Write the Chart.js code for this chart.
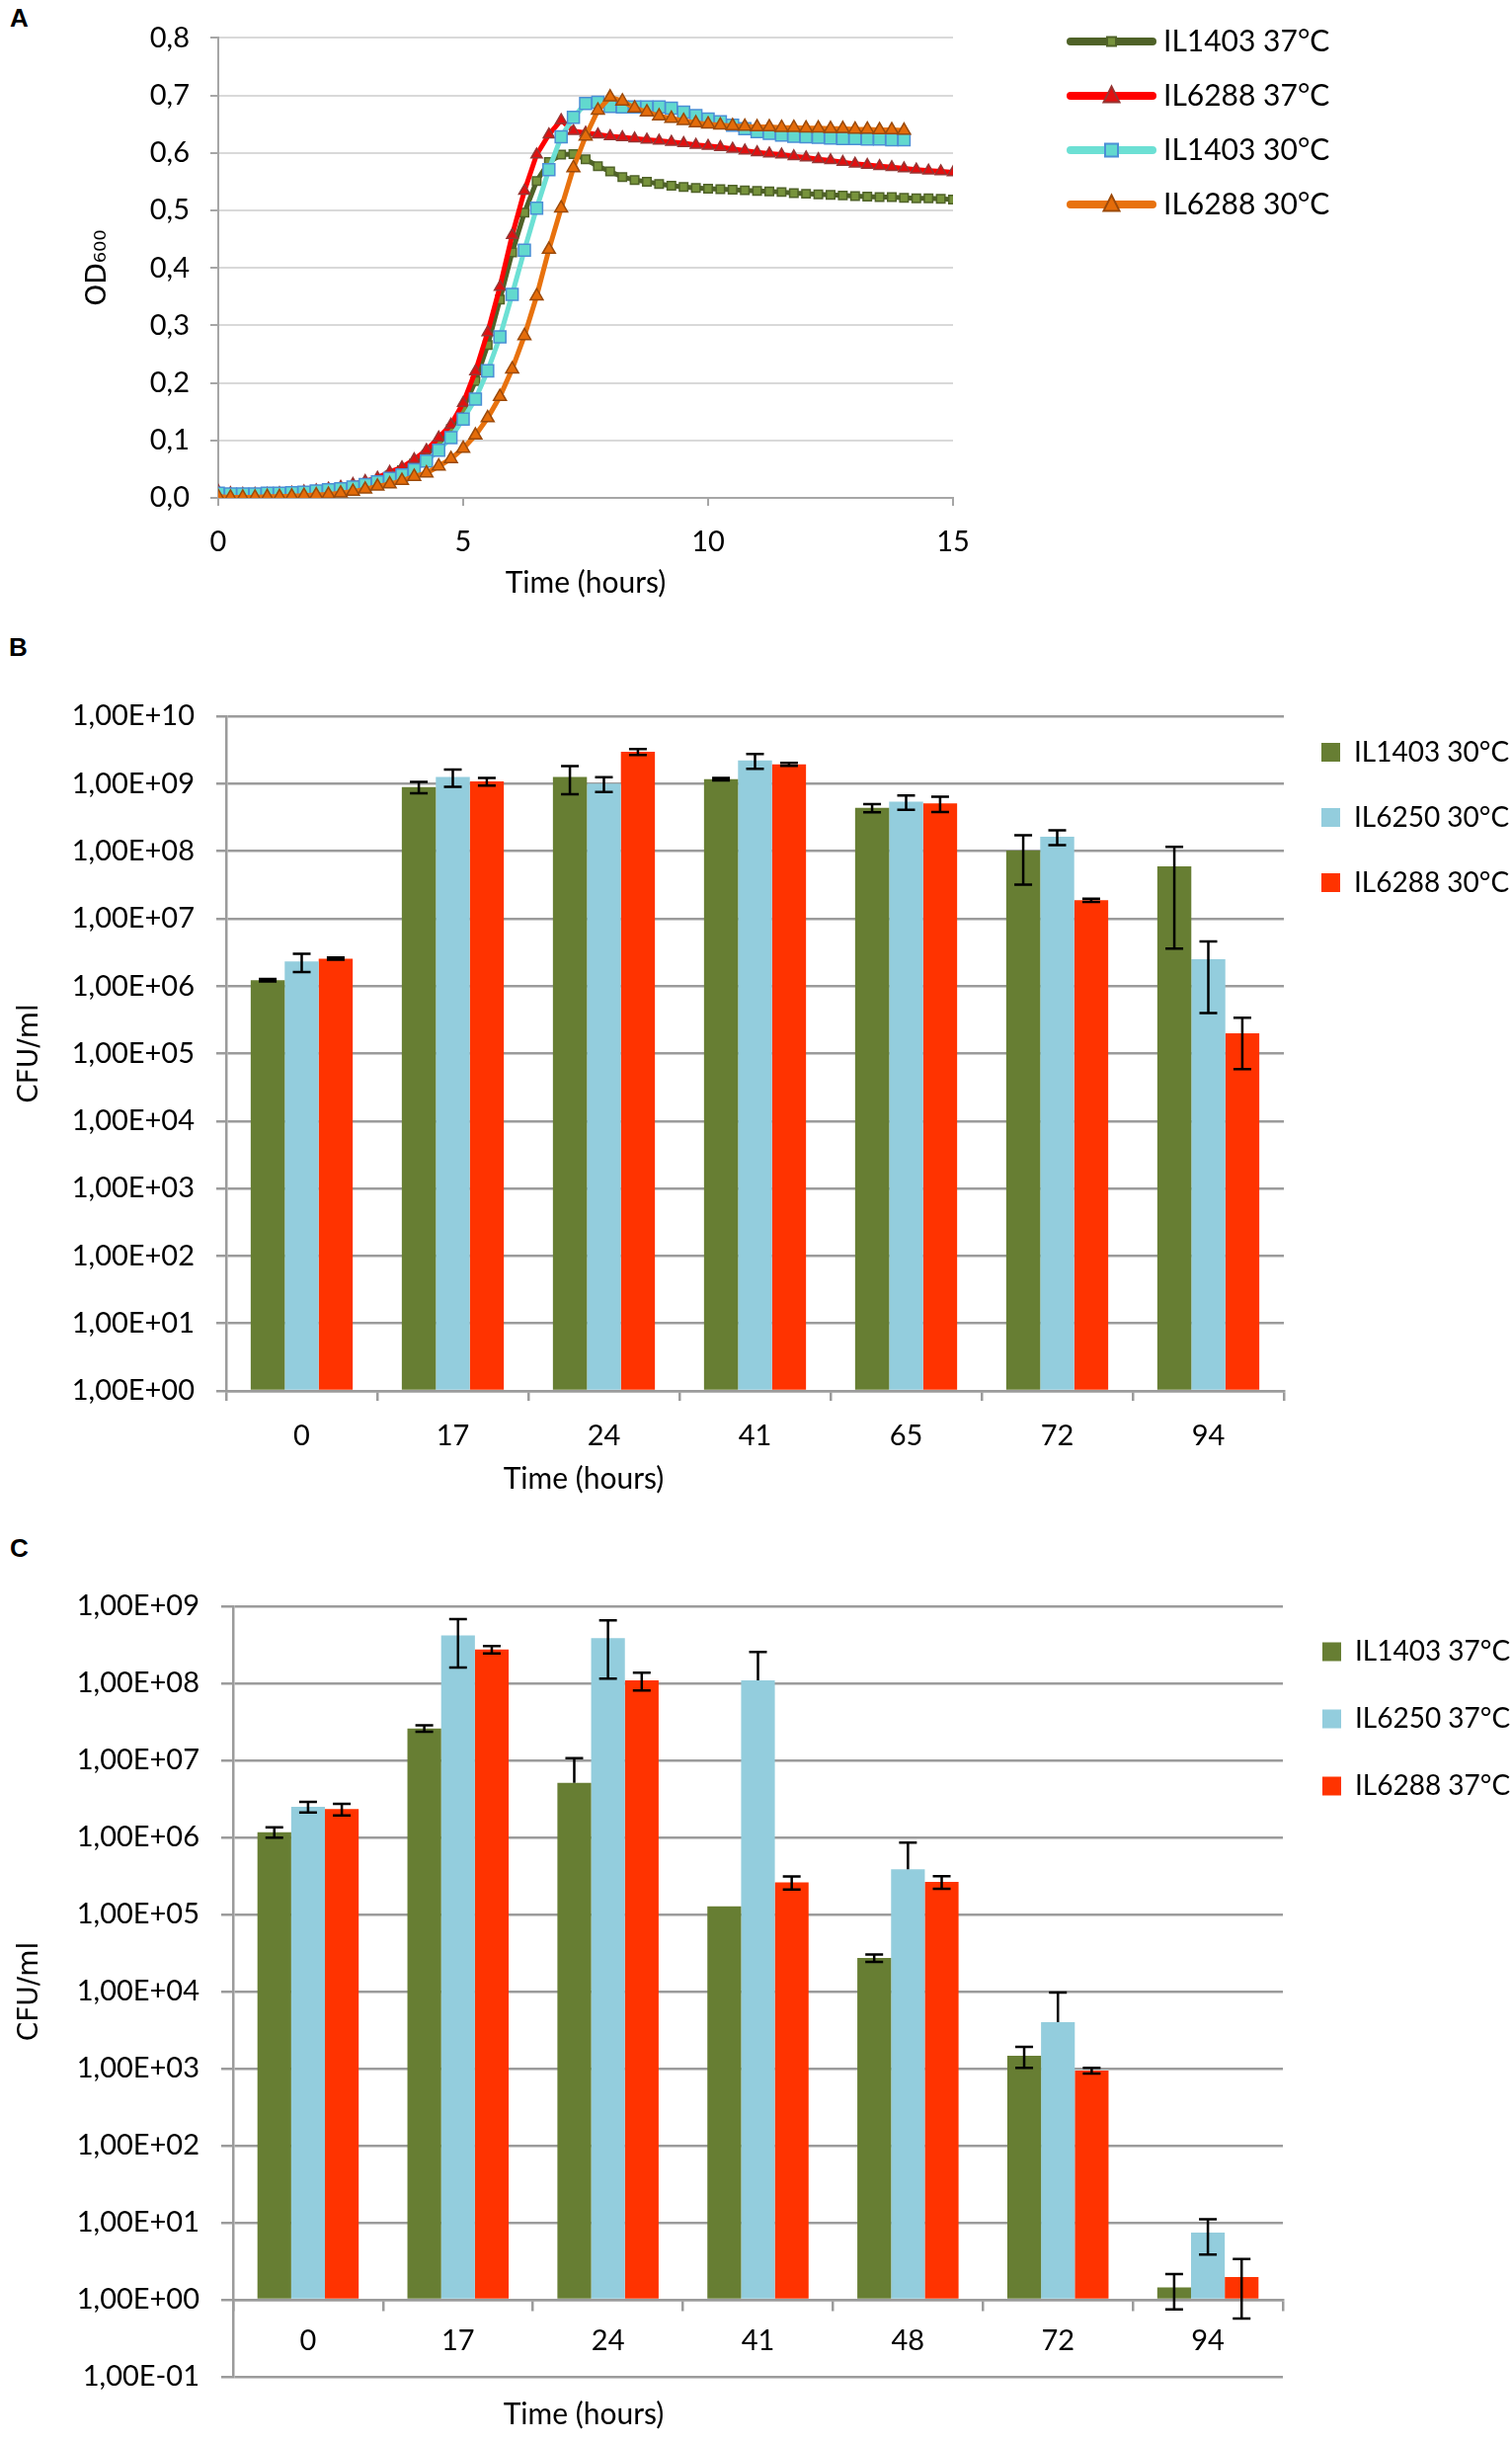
<!DOCTYPE html>
<html>
<head>
<meta charset="utf-8">
<title>Growth and survival</title>
<script src="https://cdn.jsdelivr.net/npm/chart.js@4.4.1/dist/chart.umd.min.js"></script>
<style>
  html, body { margin: 0; padding: 0; background: #fff; }
  body { width: 1531px; height: 2473px; position: relative; overflow: hidden; }
  .box { position: absolute; left: 0; width: 1531px; }
  .panel { position: absolute; font: bold 26px "Liberation Sans", Arial, sans-serif; line-height: 1; color: #000; }
</style>
</head>
<body>
<div class="panel" style="left:10px; top:5px">A</div>
<div class="panel" style="left:9px; top:642px">B</div>
<div class="panel" style="left:10px; top:1554px">C</div>
<div class="box" style="top:0; height:620px"><canvas id="chartA"></canvas></div>
<div class="box" style="top:620px; height:900px"><canvas id="chartB"></canvas></div>
<div class="box" style="top:1520px; height:953px"><canvas id="chartC"></canvas></div>
<script>
// ---- panel A: OD600 growth curves (readings every 15 min) ----
const hours = [0, 0.25, 0.5, 0.75, 1, 1.25, 1.5, 1.75, 2, 2.25, 2.5, 2.75, 3, 3.25, 3.5, 3.75,
  4, 4.25, 4.5, 4.75, 5, 5.25, 5.5, 5.75, 6, 6.25, 6.5, 6.75, 7, 7.25, 7.5, 7.75,
  8, 8.25, 8.5, 8.75, 9, 9.25, 9.5, 9.75, 10, 10.25, 10.5, 10.75, 11, 11.25, 11.5, 11.75,
  12, 12.25, 12.5, 12.75, 13, 13.25, 13.5, 13.75, 14, 14.25, 14.5, 14.75, 15];

const od1403at37 = [0.005, 0.005, 0.005, 0.005, 0.006, 0.007, 0.008, 0.009, 0.011, 0.013, 0.016, 0.020,
  0.025, 0.031, 0.039, 0.048, 0.060, 0.075, 0.095, 0.120, 0.155, 0.203, 0.266, 0.345,
  0.427, 0.496, 0.551, 0.584, 0.597, 0.598, 0.589, 0.577, 0.568, 0.558, 0.553, 0.550,
  0.546, 0.543, 0.541, 0.539, 0.538, 0.537, 0.536, 0.535, 0.534, 0.533, 0.532, 0.530,
  0.529, 0.528, 0.527, 0.526, 0.525, 0.524, 0.523, 0.523, 0.522, 0.521, 0.521, 0.520, 0.519];

const od6288at37 = [0.012, 0.008, 0.007, 0.007, 0.007, 0.008, 0.009, 0.011, 0.013, 0.016, 0.019, 0.024,
  0.029, 0.035, 0.045, 0.053, 0.067, 0.083, 0.105, 0.127, 0.165, 0.220, 0.288, 0.367,
  0.457, 0.534, 0.597, 0.632, 0.657, 0.638, 0.635, 0.632, 0.629, 0.627, 0.625, 0.623,
  0.621, 0.619, 0.617, 0.614, 0.612, 0.610, 0.607, 0.604, 0.601, 0.599, 0.597, 0.594,
  0.592, 0.589, 0.587, 0.584, 0.581, 0.579, 0.577, 0.575, 0.573, 0.571, 0.569, 0.568, 0.566];

const od1403at30 = [0.008, 0.007, 0.007, 0.007, 0.008, 0.008, 0.009, 0.010, 0.012, 0.014, 0.016, 0.019,
  0.023, 0.028, 0.034, 0.040, 0.049, 0.064, 0.083, 0.105, 0.137, 0.172, 0.221, 0.280,
  0.354, 0.431, 0.504, 0.571, 0.628, 0.662, 0.686, 0.688, 0.681, 0.680, 0.680, 0.680,
  0.680, 0.678, 0.671, 0.665, 0.659, 0.654, 0.648, 0.642, 0.637, 0.634, 0.631, 0.629,
  0.628, 0.627, 0.626, 0.625, 0.625, 0.624, 0.624, 0.623, 0.623];

const od6288at30 = [0.002, 0.001, 0.001, 0.001, 0.002, 0.002, 0.003, 0.004, 0.005, 0.006, 0.008, 0.011,
  0.015, 0.020, 0.024, 0.030, 0.037, 0.043, 0.055, 0.068, 0.086, 0.109, 0.139, 0.176,
  0.224, 0.282, 0.351, 0.432, 0.504, 0.574, 0.629, 0.674, 0.697, 0.690, 0.678, 0.671,
  0.664, 0.660, 0.656, 0.652, 0.650, 0.648, 0.647, 0.646, 0.645, 0.645, 0.644, 0.644,
  0.643, 0.643, 0.642, 0.642, 0.641, 0.641, 0.640, 0.640, 0.639];

// ---- panel B: CFU/ml at 30 °C ----
const timesB = ['0', '17', '24', '41', '65', '72', '94'];
const cfu1403at30 = [1.22e6, 8.9e8, 1.26e9, 1.17e9, 4.37e8, 1.02e8, 5.96e7];
const sd1403at30 = [0.05e6, 1.7e8, 5.6e8, 0.05e9, 0.6e8, 0.7e8, 5.6e7];
const cfu6250at30 = [2.31e6, 1.26e9, 1.0e9, 2.21e9, 5.4e8, 1.63e8, 2.5e6];
const sd6250at30 = [0.7e6, 3.6e8, 2.5e8, 0.55e9, 1.3e8, 0.4e8, 2.1e6];
const cfu6288at30 = [2.55e6, 1.08e9, 2.96e9, 1.93e9, 5.1e8, 1.87e7, 1.99e5];
const sd6288at30 = [0.1e6, 1.4e8, 0.3e9, 0.1e9, 1.3e8, 0.1e7, 1.4e5];
const ticksB = [1, 1e1, 1e2, 1e3, 1e4, 1e5, 1e6, 1e7, 1e8, 1e9, 1e10];

// ---- panel C: CFU/ml at 37 °C ----
const timesC = ['0', '17', '24', '41', '48', '72', '94'];
const cfu1403at37 = [1.17e6, 2.6e7, 5.1e6, 1.28e5, 2.73e4, 1.47e3, 1.45];
const sd1403at37 = [0.18e6, 0.25e7, 5.6e6, 0, 0.3e4, 0.45e3, 0.7];
const cfu6250at37 = [2.5e6, 4.2e8, 3.85e8, 1.09e8, 3.87e5, 3.99e3, 7.47];
const sd6250at37 = [0.4e6, 2.6e8, 2.7e8, 1.47e8, 4.7e5, 5.7e3, 3.6];
const cfu6288at37 = [2.33e6, 2.75e8, 1.09e8, 2.61e5, 2.65e5, 944, 1.97];
const sd6288at37 = [0.4e6, 0.3e8, 0.28e8, 0.5e5, 0.5e5, 80, 1.4];
const ticksC = [0.1, 1, 1e1, 1e2, 1e3, 1e4, 1e5, 1e6, 1e7, 1e8, 1e9];

Chart.defaults.font.family = "Lato";
Chart.defaults.color = "#000";
Chart.defaults.animation = false;

const sci = (v) => {
  const e = Math.round(Math.log10(v));
  return "1,00E" + (e < 0 ? "-" : "+") + String(Math.abs(e)).padStart(2, "0");
};
const pts = (ys) => ys.map((y, i) => ({ x: hours[i], y }));

// panel A legend: line sample + marker per series, drawn to the right of the plot
// (the built-in right legend is capped at a quarter of the width, too narrow here)
const lineLegend = {
  id: "lineLegend",
  afterDraw(chart, args, opts) {
    const { ctx } = chart;
    ctx.save();
    chart.data.datasets.forEach((ds, i) => {
      const y = opts.top + i * opts.spacing;
      ctx.strokeStyle = ds.borderColor;
      ctx.lineWidth = 8;
      ctx.lineCap = "round";
      ctx.beginPath();
      ctx.moveTo(opts.x0 + 4, y);
      ctx.lineTo(opts.x1 - 4, y);
      ctx.stroke();
      const cx = (opts.x0 + opts.x1) / 2;
      const s = ds.legendSize;
      ctx.fillStyle = ds.pointBackgroundColor;
      ctx.strokeStyle = ds.pointBorderColor;
      ctx.lineWidth = 2;
      ctx.beginPath();
      if (ds.pointStyle === "rect") {
        ctx.rect(cx - s / 2, y - s / 2, s, s);
      } else {
        ctx.moveTo(cx, y - s * 0.6);
        ctx.lineTo(cx + s / 2, y + s * 0.4);
        ctx.lineTo(cx - s / 2, y + s * 0.4);
        ctx.closePath();
      }
      ctx.fill();
      ctx.stroke();
      ctx.fillStyle = "#000";
      ctx.font = opts.font;
      ctx.textAlign = "left";
      ctx.textBaseline = "middle";
      ctx.fillText(ds.label, opts.textX, y);
    });
    ctx.restore();
  },
};

// error bars (mean +/- sd), lower half left out when it would go below zero
const errorBars = {
  id: "errorBars",
  afterDatasetsDraw(chart) {
    const { ctx } = chart;
    const y = chart.scales.y;
    ctx.save();
    ctx.strokeStyle = "#000";
    ctx.lineWidth = 2.5;
    chart.data.datasets.forEach((ds, di) => {
      chart.getDatasetMeta(di).data.forEach((bar, i) => {
        const v = ds.data[i];
        const e = ds.errors[i];
        if (!e) return;
        const top = y.getPixelForValue(v + e);
        const hasLow = v - e > 0;
        const low = hasLow ? y.getPixelForValue(v - e) : bar.y;
        ctx.beginPath();
        ctx.moveTo(bar.x, top);
        ctx.lineTo(bar.x, low);
        ctx.moveTo(bar.x - 9, top);
        ctx.lineTo(bar.x + 9, top);
        if (hasLow) {
          ctx.moveTo(bar.x - 9, low);
          ctx.lineTo(bar.x + 9, low);
        }
        ctx.stroke();
      });
    });
    ctx.restore();
  },
};

// x-axis caption, placed like in the original figure (left of centre)
const xCaption = {
  id: "xCaption",
  afterDraw(chart, args, opts) {
    const { ctx } = chart;
    ctx.save();
    ctx.font = opts.font;
    ctx.fillStyle = "#000";
    ctx.textAlign = "center";
    ctx.textBaseline = "middle";
    ctx.fillText(opts.text, opts.x, opts.y);
    ctx.restore();
  },
};

const lineStyles = [
  { label: "IL1403 37°C", data: pts(od1403at37), borderColor: "#4F6228", pointStyle: "rect", pointRadius: 6,
    pointBackgroundColor: "#77933C", pointBorderColor: "#4F6228", order: 3, legendSize: 9 },
  { label: "IL6288 37°C", data: pts(od6288at37), borderColor: "#FF0000", pointStyle: "triangle", pointRadius: 6.5,
    pointBackgroundColor: "#E01010", pointBorderColor: "#963634", order: 2, legendSize: 16 },
  { label: "IL1403 30°C", data: pts(od1403at30), borderColor: "#6CE0D4", pointStyle: "rect", pointRadius: 8.5,
    pointBackgroundColor: "#62D9CE", pointBorderColor: "#4B8FD6", order: 1, legendSize: 13 },
  { label: "IL6288 30°C", data: pts(od6288at30), borderColor: "#E8720E", pointStyle: "triangle", pointRadius: 7.5,
    pointBackgroundColor: "#E46C0A", pointBorderColor: "#9B4A0B", order: 0, legendSize: 16 },
];

new Chart(document.getElementById("chartA"), {
  type: "line",
  data: {
    datasets: lineStyles.map((s) => ({
      ...s,
      borderWidth: 5,
      pointBorderWidth: 1.5,
      tension: 0,
      fill: false,
    })),
  },
  options: {
    responsive: true,
    maintainAspectRatio: false,
    layout: { padding: { top: 16, left: 0, right: 566, bottom: 12 } },
    plugins: {
      tooltip: { enabled: false },
      legend: { display: false },
      lineLegend: { x0: 1080, x1: 1171, textX: 1178, top: 42, spacing: 55, font: "30px Lato" },
    },
    scales: {
      x: {
        type: "linear",
        min: 0,
        max: 15,
        ticks: { stepSize: 5, padding: 19.6, font: { size: 29 } },
        grid: { drawOnChartArea: false, tickLength: 8, tickColor: "#a6a6a6", lineWidth: 2 },
        border: { color: "#a6a6a6", width: 2 },
        title: { display: true, text: "Time (hours)", font: { size: 30 }, padding: 0 },
        afterFit: function (scaleInstance) {
          scaleInstance.height = 104;
        },
      },
      y: {
        min: 0,
        max: 0.8,
        ticks: { stepSize: 0.1, padding: 21, font: { size: 29 }, callback: (v) => v.toFixed(1).replace(".", ",") },
        grid: { color: "#d9d9d9", lineWidth: 2, tickLength: 8, tickColor: "#a6a6a6" },
        border: { color: "#a6a6a6", width: 2 },
        title: { display: true, text: "OD₆₀₀", font: { family: "DejaVu Sans", size: 28 }, padding: { top: 83, bottom: 0 } },
        afterFit: function (scaleInstance) {
          scaleInstance.width = 221;
        },
      },
    },
  },
  plugins: [lineLegend],
});

function barChart(canvasId, labels, series, ticks, opt) {
  return new Chart(document.getElementById(canvasId), {
    type: "bar",
    data: {
      labels,
      datasets: series.map((s) => ({
        label: s.label,
        data: s.data,
        errors: s.errors,
        backgroundColor: s.color,
        base: 1,
        categoryPercentage: 0.675,
        barPercentage: 1,
      })),
    },
    options: {
      responsive: true,
      maintainAspectRatio: false,
      layout: { padding: { top: opt.padTop, left: 0, right: 0, bottom: opt.padBottom } },
      plugins: {
        title: { display: true, text: "", font: { size: opt.spacerSize }, padding: { top: 0, bottom: opt.spacerPad } },
        tooltip: { enabled: false },
        legend: {
          position: "right",
          align: "start",
          maxWidth: opt.legendWidth,
          labels: { boxWidth: 19, boxHeight: 19, padding: opt.legendPad, color: "#000", font: { size: 28 } },
        },
        xCaption: { text: "Time (hours)", x: 591, y: opt.captionY, font: "30px Lato" },
      },
      scales: {
        x: {
          position: opt.xPosition,
          ticks: { padding: opt.xTickPad, font: { size: 29 } },
          grid: { offset: true, drawOnChartArea: false, tickLength: 10, color: "#9b9b9b", lineWidth: 2.5 },
          border: { color: "#9b9b9b", width: 2.5 },
          afterFit: function (scaleInstance) {
            if (opt.xHeight) scaleInstance.height = opt.xHeight;
          },
        },
        y: {
          type: "logarithmic",
          min: ticks[0],
          max: ticks[ticks.length - 1],
          afterBuildTicks: (scale) => {
            scale.ticks = ticks.map((v) => ({ value: v }));
          },
          ticks: { padding: 22, font: { size: 29 }, callback: (v) => sci(v) },
          grid: { color: "#9b9b9b", lineWidth: 2.5, tickLength: opt.yTickLen },
          border: { color: "#9b9b9b", width: 2.5 },
          title: { display: true, text: "CFU/ml", font: { family: "DejaVu Sans", size: 28 }, padding: { top: 14, bottom: 0 } },
          afterFit: function (scaleInstance) {
            scaleInstance.width = opt.yWidth;
          },
        },
      },
    },
    plugins: [errorBars, xCaption],
  });
}

barChart("chartB", timesB, [
  { label: "IL1403 30°C", data: cfu1403at30, errors: sd1403at30, color: "#677E33" },
  { label: "IL6250 30°C", data: cfu6250at30, errors: sd6250at30, color: "#93CDDD" },
  { label: "IL6288 30°C", data: cfu6288at30, errors: sd6288at30, color: "#FF3300" },
], ticksB, {
  padTop: 89.5, padBottom: 12, spacerSize: 12, spacerPad: 1.1, legendWidth: 231, legendPad: 38,
  captionY: 877, xPosition: "bottom", xTickPad: 18.6, xHeight: 100, yTickLen: 10, yWidth: 229,
});

barChart("chartC", timesC, [
  { label: "IL1403 37°C", data: cfu1403at37, errors: sd1403at37, color: "#677E33" },
  { label: "IL6250 37°C", data: cfu6250at37, errors: sd6250at37, color: "#93CDDD" },
  { label: "IL6288 37°C", data: cfu6288at37, errors: sd6288at37, color: "#FF3300" },
], ticksC, {
  padTop: 98, padBottom: 67, spacerSize: 5, spacerPad: 2, legendWidth: 232, legendPad: 40,
  captionY: 924, xPosition: { y: 1 }, xTickPad: 14.6, xHeight: 0, yTickLen: 12, yWidth: 236,
});
</script>
</body>
</html>
